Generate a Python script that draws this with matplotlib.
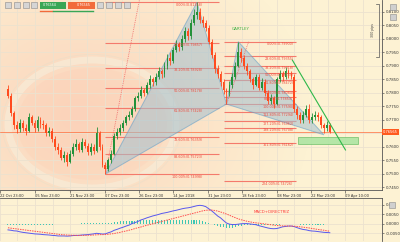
"""
AUDUSD daily - Gartley pattern with Fibonacci levels and MACD panel.
Output: out.png (400x242)
"""

import matplotlib.pyplot as plt
import numpy as np
from matplotlib.patches import Ellipse, Polygon, Rectangle

W, H, DPI = 400, 242, 100

CREAM = "#fdf2d3"
PEACH = "#fbd5bd"
GRID = "#ece2cf"
BULL = "#23913a"
BEAR = "#ff4b1f"
FIB = "#f47a6c"
FIB_TXT = "#ee4d3f"
SHADE = "#a3c0d0"
EDGE = "#5d9cc8"
TREND = "#2eb84a"
AXIS_TXT = "#333333"

# ── price data (daily candles, bar index 0..109) ─────────────────
open_first = 0.7815
closes = [
    0.7790, 0.7725, 0.7680, 0.7665, 0.7690, 0.7670, 0.7660, 0.7710, 0.7690, 0.7670,
    0.7700, 0.7685, 0.7680, 0.7650, 0.7660, 0.7630, 0.7600, 0.7590, 0.7560, 0.7570,
    0.7545, 0.7575, 0.7600, 0.7610, 0.7590, 0.7620, 0.7605, 0.7580, 0.7600, 0.7585,
    0.7650, 0.7600, 0.7535, 0.7520, 0.7550, 0.7575, 0.7640, 0.7655, 0.7670, 0.7690,
    0.7710, 0.7720, 0.7740, 0.7780, 0.7790, 0.7810, 0.7800, 0.7830, 0.7850, 0.7840,
    0.7860, 0.7880, 0.7870, 0.7900, 0.7930, 0.7920, 0.7960, 0.7980, 0.7970, 0.8000,
    0.8030, 0.8010, 0.8060, 0.8090, 0.8100, 0.8070, 0.8060, 0.8040, 0.7990, 0.7940,
    0.7890, 0.7870, 0.7840, 0.7810, 0.7800, 0.7830, 0.7860, 0.7900, 0.7950, 0.7930,
    0.7900, 0.7880, 0.7850, 0.7830, 0.7860, 0.7820, 0.7840, 0.7800, 0.7770, 0.7780,
    0.7760, 0.7850, 0.7870, 0.7860, 0.7880, 0.7870, 0.7860, 0.7740, 0.7720, 0.7700,
    0.7720, 0.7740, 0.7700, 0.7710, 0.7720, 0.7710, 0.7680, 0.7670, 0.7680, 0.7656,
]
highs = [
    0.7830, 0.7800, 0.7735, 0.7695, 0.7705, 0.7700, 0.7685, 0.7725, 0.7720, 0.7700,
    0.7715, 0.7710, 0.7700, 0.7690, 0.7675, 0.7670, 0.7640, 0.7615, 0.7600, 0.7585,
    0.7580, 0.7590, 0.7615, 0.7630, 0.7620, 0.7635, 0.7630, 0.7615, 0.7615, 0.7610,
    0.7675, 0.7660, 0.7610, 0.7545, 0.7560, 0.7590, 0.7650, 0.7670, 0.7685, 0.7700,
    0.7720, 0.7735, 0.7750, 0.7790, 0.7805, 0.7825, 0.7820, 0.7840, 0.7865, 0.7860,
    0.7875, 0.7895, 0.7890, 0.7915, 0.7945, 0.7950, 0.7970, 0.7995, 0.7990, 0.8015,
    0.8045, 0.8040, 0.8075, 0.8110, 0.8136, 0.8115, 0.8085, 0.8070, 0.8050, 0.8000,
    0.7950, 0.7905, 0.7880, 0.7850, 0.7820, 0.7845, 0.7875, 0.7915, 0.7990, 0.7965,
    0.7940, 0.7910, 0.7890, 0.7860, 0.7870, 0.7870, 0.7855, 0.7850, 0.7810, 0.7795,
    0.7790, 0.7860, 0.7885, 0.7880, 0.7895, 0.7890, 0.7880, 0.7870, 0.7750, 0.7730,
    0.7735, 0.7755, 0.7760, 0.7725, 0.7735, 0.7730, 0.7720, 0.7690, 0.7695, 0.7690,
]
lows = [
    0.7780, 0.7715, 0.7665, 0.7650, 0.7655, 0.7660, 0.7645, 0.7655, 0.7680, 0.7655,
    0.7660, 0.7670, 0.7665, 0.7640, 0.7640, 0.7620, 0.7590, 0.7575, 0.7550, 0.7545,
    0.7530, 0.7540, 0.7565, 0.7590, 0.7580, 0.7580, 0.7595, 0.7570, 0.7570, 0.7575,
    0.7580, 0.7590, 0.7525, 0.7500, 0.7510, 0.7540, 0.7570, 0.7630, 0.7645, 0.7660,
    0.7680, 0.7700, 0.7710, 0.7735, 0.7770, 0.7780, 0.7790, 0.7795, 0.7820, 0.7825,
    0.7830, 0.7850, 0.7855, 0.7860, 0.7890, 0.7905, 0.7910, 0.7950, 0.7955, 0.7960,
    0.7990, 0.7995, 0.8000, 0.8050, 0.8075, 0.8060, 0.8045, 0.8030, 0.7980, 0.7930,
    0.7875, 0.7855, 0.7825, 0.7795, 0.7759, 0.7790, 0.7820, 0.7850, 0.7895, 0.7915,
    0.7890, 0.7865, 0.7840, 0.7815, 0.7825, 0.7810, 0.7810, 0.7790, 0.7760, 0.7760,
    0.7745, 0.7755, 0.7840, 0.7845, 0.7850, 0.7855, 0.7850, 0.7730, 0.7705, 0.7690,
    0.7690, 0.7710, 0.7690, 0.7690, 0.7700, 0.7695, 0.7670, 0.7650, 0.7660, 0.7650,
]

# MACD (main line), signal line and histogram
macd = [
    -0.0033, -0.0035, -0.0038, -0.0039, -0.0043, -0.0046, -0.0048, -0.0050, -0.0052, -0.0054,
    -0.0055, -0.0056, -0.0058, -0.0059, -0.0060, -0.0062, -0.0063, -0.0065, -0.0065, -0.0065,
    -0.0066, -0.0065, -0.0063, -0.0062, -0.0062, -0.0060, -0.0059, -0.0058, -0.0056, -0.0054,
    -0.0051, -0.0053, -0.0055, -0.0054, -0.0048, -0.0043, -0.0035, -0.0030, -0.0024, -0.0019,
    -0.0013, -0.0008, 0.0000, 0.0005, 0.0011, 0.0019, 0.0024, 0.0030, 0.0035, 0.0040,
    0.0044, 0.0048, 0.0053, 0.0056, 0.0059, 0.0063, 0.0067, 0.0070, 0.0074, 0.0078,
    0.0081, 0.0083, 0.0086, 0.0090, 0.0094, 0.0096, 0.0094, 0.0089, 0.0078, 0.0067,
    0.0054, 0.0040, 0.0030, 0.0016, 0.0003, -0.0003, -0.0005, -0.0005, -0.0003, -0.0001,
    0.0000, 0.0000, -0.0002, -0.0004, -0.0006, -0.0011, -0.0015, -0.0019, -0.0023, -0.0026,
    -0.0027, -0.0026, -0.0022, -0.0017, -0.0015, -0.0013, -0.0013, -0.0016, -0.0022, -0.0027,
    -0.0031, -0.0033, -0.0037, -0.0039, -0.0040, -0.0042, -0.0044, -0.0046, -0.0047, -0.0048,
]
signal = [
    -0.0022, -0.0024, -0.0026, -0.0028, -0.0030, -0.0032, -0.0034, -0.0036, -0.0038, -0.0040,
    -0.0042, -0.0044, -0.0046, -0.0048, -0.0050, -0.0052, -0.0054, -0.0056, -0.0058, -0.0059,
    -0.0060, -0.0061, -0.0061, -0.0062, -0.0062, -0.0062, -0.0062, -0.0061, -0.0061, -0.0060,
    -0.0059, -0.0058, -0.0058, -0.0057, -0.0056, -0.0054, -0.0052, -0.0049, -0.0046, -0.0042,
    -0.0039, -0.0035, -0.0031, -0.0026, -0.0022, -0.0018, -0.0013, -0.0009, -0.0005, -0.0001,
    0.0003, 0.0007, 0.0011, 0.0015, 0.0019, 0.0023, 0.0027, 0.0031, 0.0035, 0.0039,
    0.0043, 0.0047, 0.0051, 0.0055, 0.0059, 0.0063, 0.0067, 0.0070, 0.0071, 0.0071,
    0.0069, 0.0066, 0.0061, 0.0056, 0.0050, 0.0044, 0.0037, 0.0031, 0.0025, 0.0020,
    0.0016, 0.0012, 0.0009, 0.0006, 0.0004, 0.0002, 0.0000, -0.0002, -0.0004, -0.0006,
    -0.0008, -0.0010, -0.0011, -0.0012, -0.0012, -0.0013, -0.0013, -0.0014, -0.0015, -0.0017,
    -0.0019, -0.0021, -0.0023, -0.0026, -0.0028, -0.0031, -0.0033, -0.0035, -0.0038, -0.0040,
]
HIST_SCALE = 0.5   # terminal draws the OsMA histogram at half scale

# ── Gartley points X, A, B, C, D (bar index, price) ─────────────
pat_idx = [33, 64, 74, 78, 107]
pat_price = [0.74998, 0.81358, 0.7759, 0.7990, 0.7645]

# Fibonacci XA retracement and CB extension
xa_ratios = [0.0, 23.6, 38.2, 50.0, 61.8, 78.6, 88.6, 100.0]
cb_ratios = [0.0, 23.6, 38.2, 50.0, 61.8, 78.6, 88.6, 100.0, 112.8, 127.2, 138.2, 161.8, 224.0]

# trend lines / zone
dotted_lines = [((33, 0.7500), (44.5, 0.8144)), ((74, 0.7759), (81.5, 0.7990))]
green_line = ((96.3, 0.7922), (114.3, 0.7589))
prz_box = (98.3, 118.7, 0.7611, 0.7637)
last_price = 0.76565

# x axis: date ticks
date_pos = [-2.7, 9.3, 21.0, 32.7, 44.3, 56.0, 67.7, 79.3, 91.0, 102.7, 114.3]
date_labels = ["22 Oct 23:00", "05 Nov 23:00", "21 Nov 23:00", "07 Dec 23:00",
               "26 Dec 23:00", "14 Jan 2018", "31 Jan 23:00", "18 Feb 23:00",
               "08 Mar 23:00", "22 Mar 23:00", "09 Apr 10:00"]
price_ticks = np.arange(0.745, 0.8101, 0.005)
macd_ticks = [0.01, 0.005, 0.0, -0.005]
macd_tick_labels = ["0.01", "0.0050", "0.0000", "-0.0050"]

XLIM = (-0.67, 126.67)
YLIM = (0.74407, 0.81444)


def main():
    fig = plt.figure(figsize=(W / DPI, H / DPI), dpi=DPI)

    # ── background (gradient + watermark), pixel coordinates ──
    bg = fig.add_axes([0, 0, 1, 1], zorder=-5)
    bg.set_xlim(0, W)
    bg.set_ylim(H, 0)
    bg.axis("off")
    gx, gy = np.meshgrid(np.arange(W), np.arange(H))
    t = np.clip(np.hypot(gx - 80, (gy - 115) * 1.2) / 230, 0, 1) ** 1.1
    c0 = np.array([int(PEACH[i:i + 2], 16) for i in (1, 3, 5)]) / 255
    c1 = np.array([int(CREAM[i:i + 2], 16) for i in (1, 3, 5)]) / 255
    img = c0[None, None, :] * (1 - t[..., None]) + c1[None, None, :] * t[..., None]
    img[191:, :, :] = c1
    bg.imshow(img, extent=(0, W, H, 0), aspect="auto", zorder=0)
    bg.add_patch(Ellipse((92, 124), 150, 112, facecolor="#fbcdb2", alpha=0.25,
                         edgecolor="none", zorder=1))
    bg.add_patch(Ellipse((92, 124), 168, 128, facecolor="none", edgecolor="#f7efdc",
                         lw=5, alpha=0.6, zorder=2))
    bg.add_patch(Ellipse((92, 124), 180, 139, facecolor="none", edgecolor="#eadfc9",
                         lw=0.6, alpha=0.6, zorder=2))

    # ── main price chart ──
    ax = fig.add_axes([0, 52 / H, 382 / W, 190 / H], zorder=1)
    ax.set_facecolor("none")
    ax.set_xlim(*XLIM)
    ax.set_ylim(*YLIM)

    x = np.arange(len(closes))
    opens = np.array([open_first] + closes[:-1])
    c = np.array(closes)
    up = c >= opens
    colors = np.where(up, BULL, BEAR)
    ax.vlines(x, lows, highs, colors=colors, lw=0.6, zorder=4)
    body_lo = np.minimum(opens, c)
    body_h = np.maximum(np.abs(c - opens), 0.00015)
    ax.bar(x, body_h, bottom=body_lo, width=0.62, color=colors, lw=0, zorder=4)

    # Gartley triangles
    px, py = pat_idx, pat_price
    xab = list(zip(px[0:3], py[0:3]))
    bcd = list(zip(px[2:5], py[2:5]))
    for tri in (xab, bcd):
        ax.add_patch(Polygon(tri, closed=True, facecolor=SHADE, alpha=0.55,
                             edgecolor=EDGE, lw=0.7, zorder=3))
    ax.text(78.7, 0.8037, "GARTLEY", color="#3cb043", fontsize=2.9,
            ha="center", va="center", zorder=6)

    # XA retracement levels
    rng = py[1] - py[0]
    for r in xa_ratios:
        lev = py[1] - r / 100 * rng
        ax.hlines(lev, px[0], 71.5, color=FIB, lw=0.8, zorder=2)
        ax.text(66.0, lev - 0.0002, f"{r:.2f}%({lev:.5f})", color=FIB_TXT,
                fontsize=2.4, ha="right", va="top", zorder=6)

    # CB extension levels
    rng2 = py[3] - py[2]
    for r in cb_ratios:
        lev = py[3] - r / 100 * rng2
        ax.hlines(lev, 73.3, 97.7, color=FIB, lw=0.8, zorder=2)
        ax.text(96.7, lev - 0.0002, f"{r:.2f}%({lev:.5f})", color=FIB_TXT,
                fontsize=2.4, ha="right", va="top", zorder=6)

    for (x0, y0), (x1, y1) in dotted_lines:
        ax.plot([x0, x1], [y0, y1], color="#f06a6a", lw=0.6, ls=(0, (1, 1.2)), zorder=3)
    ax.plot([green_line[0][0], green_line[1][0]], [green_line[0][1], green_line[1][1]],
            color=TREND, lw=0.8, zorder=5)
    bx0, bx1, by0, by1 = prz_box
    ax.add_patch(Rectangle((bx0, by0), bx1 - bx0, by1 - by0, facecolor="#a9e4a0",
                           edgecolor="#5cb85c", lw=0.5, alpha=0.85, zorder=3))

    ax.axhline(last_price, color="#ff6a3a", lw=0.5, zorder=2)
    ax.text(1.003, last_price, f"{last_price:.5f}", transform=ax.get_yaxis_transform(),
            fontsize=2.6, color="white", ha="left", va="center", clip_on=False, zorder=8,
            bbox=dict(boxstyle="square,pad=0.25", facecolor="#ff5a1f", edgecolor="none"))

    # price labels on the right; the one under the live-price box is hidden
    ax.yaxis.tick_right()
    ax.set_yticks(price_ticks)
    ax.set_yticklabels(["" if abs(v - last_price) < 0.0025 else f"{v:.4f}"
                        for v in price_ticks])
    ax.set_xticks(date_pos)
    ax.set_xticklabels(date_labels)
    for lab in ax.get_xticklabels():
        lab.set_ha("left")
    mids = [p + 5.83 for p in date_pos]
    ax.set_xticks(mids, minor=True)
    ax.tick_params(axis="y", labelsize=2.8, length=1.5, width=0.4, pad=1, colors=AXIS_TXT)
    ax.tick_params(axis="x", labelsize=2.6, length=2, width=0.4, pad=1.2, colors=AXIS_TXT)
    ax.tick_params(axis="x", which="minor", length=0)
    ax.grid(True, which="both", color=GRID, lw=0.6, zorder=0)
    for s in ("top", "left"):
        ax.spines[s].set_visible(False)
    for s in ("right", "bottom"):
        ax.spines[s].set_color("#555555")
        ax.spines[s].set_linewidth(0.6)

    # ── MACD panel ──
    ax2 = fig.add_axes([0, 1 / H, 382 / W, 43 / H], zorder=1)
    ax2.set_facecolor("none")
    ax2.set_xlim(*XLIM)
    ax2.set_ylim(-0.00915, 0.01345)
    hist = (np.array(macd) - np.array(signal)) * HIST_SCALE
    ax2.bar(x, hist, width=0.35, color="#3fc7b4", lw=0, zorder=3)
    ax2.plot(x, macd, color="#5858ee", lw=0.7, zorder=4)
    ax2.plot(x, signal, color="#ff4d4d", lw=0.7, ls=(0, (1.5, 1)), zorder=4)
    ax2.text(89.3, 0.0059, "MACD+DIRECTRIZ", color="#ff3b3b", fontsize=2.9,
             ha="center", va="center")
    ax2.yaxis.tick_right()
    ax2.set_yticks(macd_ticks)
    ax2.set_yticklabels(macd_tick_labels)
    ax2.set_xticks(date_pos + mids)
    ax2.set_xticklabels([])
    ax2.tick_params(axis="y", labelsize=2.8, length=1.5, width=0.4, pad=1, colors=AXIS_TXT)
    ax2.tick_params(axis="x", length=0)
    ax2.grid(True, color=GRID, lw=0.6, zorder=0)
    for s in ("bottom", "left"):
        ax2.spines[s].set_visible(False)
    for s in ("right", "top"):
        ax2.spines[s].set_color("#555555")
        ax2.spines[s].set_linewidth(0.6)

    # ── terminal UI overlay, pixel coordinates ──
    ov = fig.add_axes([0, 0, 1, 1], zorder=10)
    ov.set_xlim(0, W)
    ov.set_ylim(H, 0)
    ov.axis("off")
    for ix in (5, 14, 23, 31, 97, 106, 115, 124):
        ov.add_patch(Rectangle((ix, 2), 6, 6, facecolor="#d5d5d5", edgecolor="#8a8a8a", lw=0.4))
    ov.add_patch(Rectangle((40, 1.5), 26, 7, facecolor="#3aa655", edgecolor="none"))
    ov.text(50, 5, "0.76564", color="white", fontsize=2.4, ha="center", va="center")
    ov.add_patch(Rectangle((68, 1.5), 27, 7, facecolor="#f26b3a", edgecolor="none"))
    ov.text(84, 5, "0.76565", color="white", fontsize=2.4, ha="center", va="center")
    ov.plot([40, 52], [11, 11], color="#f26b3a", lw=1.0)
    ov.plot([53, 93], [11, 11], color="#3aa655", lw=1.0)
    for iy in (4, 14):
        ov.add_patch(Rectangle((390, iy), 6, 6, facecolor="#cfcfcf", edgecolor="#8a8a8a", lw=0.4))
    ov.add_patch(Rectangle((389, 202), 6, 6, facecolor="#cfcfcf", edgecolor="#8a8a8a", lw=0.4))
    ov.plot([376, 379, 379, 376], [4, 4, 57, 57], color="#555555", lw=0.5)
    ov.text(375, 30, "300 pips", rotation=90, fontsize=2.3, color="#444444",
            ha="right", va="center")

    fig.savefig("out.png", dpi=DPI)
    plt.close(fig)


if __name__ == "__main__":
    main()
